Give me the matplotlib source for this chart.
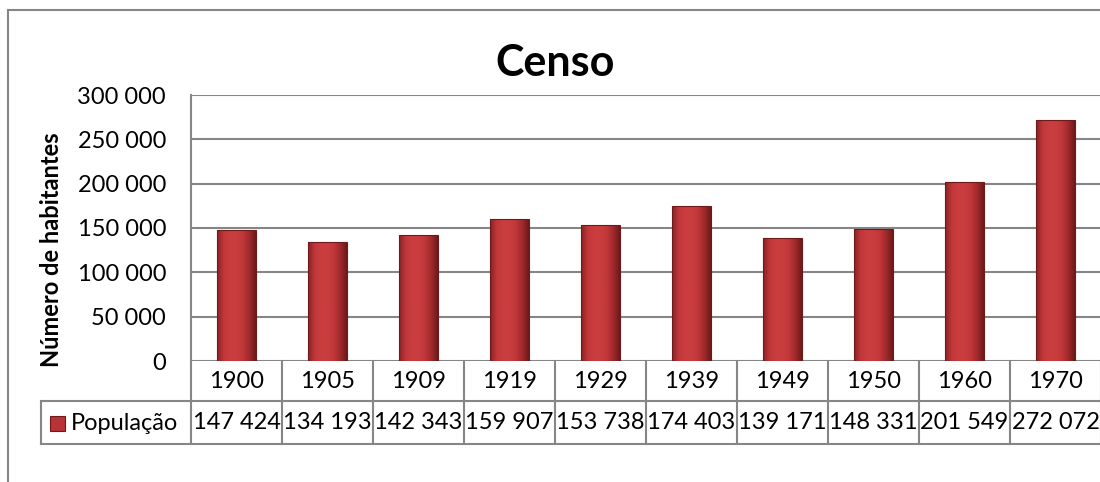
#!/usr/bin/env python3

# Import special modules ...
import matplotlib
matplotlib.use("Agg")
import matplotlib.pyplot
import matplotlib.lines
import matplotlib.patches
import matplotlib.colors
import matplotlib.transforms
import numpy

# Data ...
years = ["1900", "1905", "1909", "1919", "1929", "1939", "1949", "1950", "1960", "1970"]
populacao = [147424, 134193, 142343, 159907, 153738, 174403, 139171, 148331, 201549, 272072]
yticks = [0, 50000, 100000, 150000, 200000, 250000, 300000]

W, H = 1100, 482
grey = "#868686"
font = "Lato"

def fmt(v):
    return f"{v:,}".replace(",", " ")

# Create figure ...
fg = matplotlib.pyplot.figure(figsize = (W / 100, H / 100), dpi = 100)
matplotlib.pyplot.rcParams["font.family"] = font

# Plot area in pixel coordinates (left, top, right, bottom) ...
pl, pt, pr, pb = 191, 95, 1101, 361
ax = fg.add_axes([pl / W, 1 - pb / H, (pr - pl) / W, (pb - pt) / H])

# Bars with a shaded (bevel-like) horizontal gradient ...
x = list(range(len(years)))
bars = ax.bar(x, populacao, width = 0.42, color = "none", edgecolor = "#6E1A1B", linewidth = 0.8, zorder = 4)
cmap = matplotlib.colors.LinearSegmentedColormap.from_list("bev", ["#8A2224", "#C0373A", "#CA3D3F", "#CA3D3F", "#C0373A", "#A02A2C", "#6E1A1B"])
grad = numpy.linspace(0, 1, 64).reshape(1, -1)
for b in bars:
    bx, by = b.get_x(), b.get_y()
    im = ax.imshow(grad, cmap = cmap, aspect = "auto", extent = (bx, bx + b.get_width(), by, by + b.get_height()), zorder = 3)
    im.set_clip_path(b)

# Configure axis ...
ax.set_xlim(-0.5, len(years) - 0.5)
ax.set_ylim(0, 300000)
ax.set_yticks(yticks)
ax.set_yticklabels([fmt(v) for v in yticks], fontsize = 17)
ax.tick_params(axis = "y", length = 0, pad = 18)
ax.set_xticks([])
ax.grid(axis = "y", color = grey, linewidth = 1.5, zorder = 0)
for side in ["top", "right", "bottom"]:
    ax.spines[side].set_visible(False)
ax.spines["left"].set_color(grey)
ax.spines["left"].set_linewidth(1.5)

# Data table below the plot ...
r1 = (401 - pb) / (pb - pt)
r2 = (444 - pb) / (pb - pt)
tr = matplotlib.transforms.blended_transform_factory(ax.transData, ax.transAxes)
for i, (yr, v) in enumerate(zip(years, populacao)):
    ax.text(i, -r1 / 2, yr, transform = tr, ha = "center", va = "center", fontsize = 17, clip_on = False)
    ax.text(i, -(r1 + r2) / 2, fmt(v), transform = tr, ha = "center", va = "center", fontsize = 17, clip_on = False)
    ax.plot([i + 0.5, i + 0.5], [0, -r2], transform = tr, color = grey, linewidth = 1.5, clip_on = False)
ax.plot([-0.5, -0.5], [0, -r2], transform = tr, color = grey, linewidth = 1.5, clip_on = False)

def px(xp, yp):
    return xp / W, 1 - yp / H

for (x0, y0), (x1, y1) in [((41, 401), (1100, 401)), ((41, 444), (1100, 444)), ((41, 401), (41, 444)),
                           ((8, 10), (1100, 10)), ((8, 10), (8, 482))]:
    a, b = px(x0, y0)
    c, d = px(x1, y1)
    fg.add_artist(matplotlib.lines.Line2D([a, c], [b, d], color = grey, linewidth = 1.5))

# Legend key and label ...
kx, ky = px(50, 431)
fg.add_artist(matplotlib.patches.Rectangle((kx, ky), 15 / W, 15 / H, facecolor = "#B83335", edgecolor = "#6E1A1B", linewidth = 0.8))
fg.text(*px(71, 423), "População", ha = "left", va = "center", fontsize = 17)

# Title and axis label ...
fg.text(*px(555, 63), "Censo", ha = "center", va = "center", fontsize = 31, fontweight = "bold")
fg.text(*px(52, 250), "Número de habitantes", ha = "center", va = "center", rotation = 90, fontsize = 17, fontweight = "bold")

# Save figure ...
fg.savefig("out.png", dpi = 100)
matplotlib.pyplot.close(fg)
